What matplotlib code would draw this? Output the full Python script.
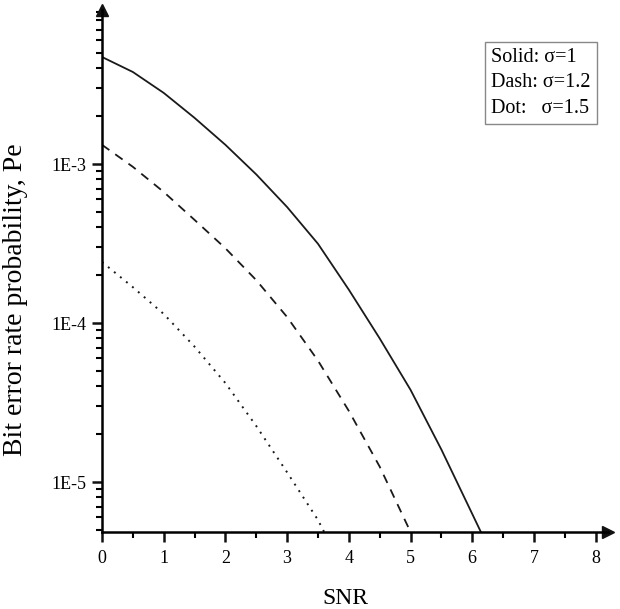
import numpy as np
import matplotlib
matplotlib.use("Agg")
import matplotlib.pyplot as plt
from matplotlib.ticker import LogLocator, FuncFormatter, MultipleLocator, NullFormatter

plt.rcParams['font.family'] = ['Liberation Serif', 'DejaVu Serif']

# values
snr_solid = [0, 0.5, 1, 1.5, 2, 2.5, 3, 3.5, 4, 4.5, 5, 5.5, 6, 6.14]
pe_solid = [4.71e-3, 3.79e-3, 2.80e-3, 1.95e-3, 1.32e-3, 8.6e-4, 5.36e-4,
            3.15e-4, 1.62e-4, 8.0e-5, 3.8e-5, 1.6e-5, 6.3e-6, 4.85e-6]

snr_dash = [0, 0.5, 1, 1.5, 2, 2.5, 3, 3.5, 4, 4.5, 5]
pe_dash = [1.32e-3, 9.6e-4, 6.67e-4, 4.45e-4, 2.95e-4, 1.86e-4, 1.09e-4,
           5.8e-5, 2.8e-5, 1.25e-5, 4.85e-6]

snr_dot = [0, 0.5, 1, 1.5, 2, 2.5, 3, 3.5, 3.6]
pe_dot = [2.42e-4, 1.68e-4, 1.14e-4, 7.1e-5, 4.19e-5, 2.25e-5, 1.15e-5,
          5.77e-6, 4.85e-6]

legend_text = "Solid: \u03c3=1\nDash: \u03c3=1.2\nDot:   \u03c3=1.5"

fig = plt.figure(figsize=(6.2, 6.09), dpi=100)
ax = fig.add_axes([102/620, 77/609, 506/620, 522/609])

ax.plot(snr_solid, pe_solid, color='#1a1a1a', lw=1.3, linestyle='-')
ax.plot(snr_dash, pe_dash, color='#1a1a1a', lw=1.3, linestyle=(0, (5, 4)))
ax.plot(snr_dot, pe_dot, color='#1a1a1a', lw=1.4, linestyle=(0, (1, 3)))

ax.set_yscale('log')
ax.set_xlim(0, 8.2)
ax.set_ylim(4.85e-6, 9.3e-3)

ax.xaxis.set_major_locator(MultipleLocator(1))
ax.xaxis.set_minor_locator(MultipleLocator(0.5))
ax.yaxis.set_major_locator(LogLocator(base=10, numticks=10))
ax.yaxis.set_minor_locator(LogLocator(base=10, subs=np.arange(2, 10), numticks=20))
ax.yaxis.set_major_formatter(FuncFormatter(lambda v, p: '1E%d' % round(np.log10(v))))
ax.yaxis.set_minor_formatter(NullFormatter())

for s in ['top', 'right']:
    ax.spines[s].set_visible(False)
for s in ['left', 'bottom']:
    ax.spines[s].set_linewidth(1.8)

ax.tick_params(axis='both', which='major', direction='out', length=7, width=1.8,
               labelsize=13, color='#111111')
ax.tick_params(axis='both', which='minor', direction='out', length=4, width=1.5)
ax.tick_params(axis='x', which='major', pad=6)
ax.tick_params(axis='y', which='major', pad=4)

# arrow heads on the axes
ax.plot(1, 0, '>', color='#111111', markersize=8, transform=ax.transAxes, clip_on=False)
ax.plot(0, 1, '^', color='#111111', markersize=8, transform=ax.transAxes, clip_on=False)

ax.set_ylabel('Bit error rate probability, Pe', fontsize=20)
ax.yaxis.set_label_coords(-0.146, 0.446)
ax.set_xlabel('SNR', fontsize=17)
ax.xaxis.set_label_coords(0.48, -0.107)

fig.text(491/620, 1 - 48/609, legend_text, fontsize=14.5,
         va='top', ha='left', linespacing=1.45,
         bbox=dict(boxstyle='square,pad=0.3', fc='white', ec='#888888', lw=1))

fig.savefig('out.png', dpi=100)
